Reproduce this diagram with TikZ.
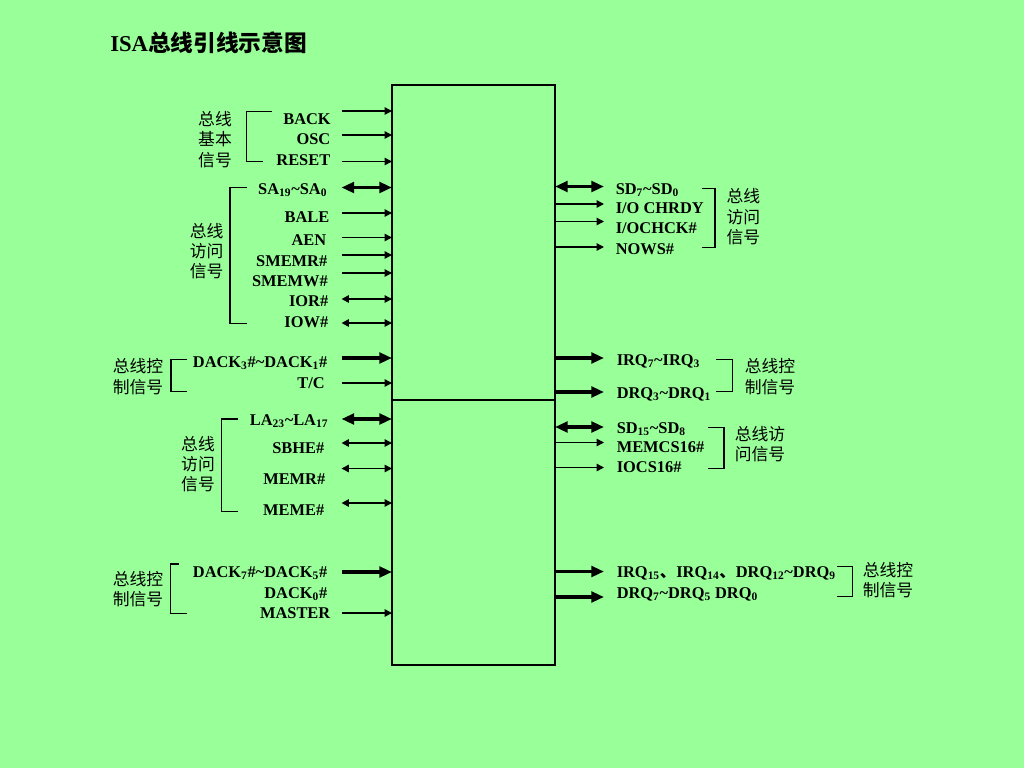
\documentclass[tikz,border=0pt]{standalone}
\usepackage{fontspec}
\setmainfont{Liberation Serif}
\newfontfamily\cjk{Noto Sans CJK SC}
\usetikzlibrary{arrows.meta}
\definecolor{bg}{RGB}{153,255,153}
\newcommand\tld{\textasciitilde}
\newcommand\sbs[1]{\textsubscript{#1}}
\begin{document}
\begin{tikzpicture}[x=0.75pt,y=-0.75pt,
 lab/.style={font=\fontsize{12.3}{14}\selectfont\bfseries, inner sep=0pt},
 labl/.style={lab, anchor=base east},
 labr/.style={lab, anchor=base west},
 grp/.style={font=\cjk\fontsize{12.6}{15.2}\selectfont, align=center, inner sep=0pt},
 brk/.style={line width=0.8pt},
 box/.style={draw, line width=2pt, inner sep=0pt, outer sep=0pt, minimum width=122.25pt},
 thin/.style={line width=1.1pt, -{Triangle[length=5.5pt,width=5.5pt]}},
 thinb/.style={line width=1.1pt, {Triangle[length=5.5pt,width=5.5pt]}-{Triangle[length=5.5pt,width=5.5pt]}},
 thick/.style={line width=2.6pt, -{Triangle[length=9.5pt,width=8pt]}},
 thickb/.style={line width=2.6pt, {Triangle[length=9.5pt,width=8pt]}-{Triangle[length=9.5pt,width=8pt]}},
]
\fill[bg] (0,0) rectangle (1024,768);
\useasboundingbox (0,0) rectangle (1024,768);

% title
\node[anchor=base west, inner sep=0pt, font=\fontsize{17}{19}\selectfont\bfseries] (title) at (110,51) {ISA{\cjk\bfseries 总线引线示意图}};

% boxes
\node[box, minimum height=236.25pt] (up) at (473.5,242.5) {};
\node[box, minimum height=198.75pt] (lo) at (473.5,532.5) {};

% left arrows
\foreach \y/\s [count=\i] in {111/thin,135/thin,161.5/thin,187.5/thickb,213/thin,237.5/thin,255/thin,273/thin,299/thinb,323/thinb,358/thick,383/thin,419/thickb,443/thinb,468.5/thinb,503/thinb,572/thick,613/thin}{
  \coordinate (L\i) at (341.5,\y);
  \draw[\s] (L\i) -- (L\i -| up.west);
}
% right arrows
\foreach \y/\s [count=\i] in {186.5/thickb,204/thin,221.5/thin,247/thin,358/thick,392/thick,427/thickb,442.5/thin,467.5/thin,571.5/thick,597/thick}{
  \coordinate (R\i) at (604,\y);
  \draw[\s] (R\i -| up.east) -- (R\i);
}

% left labels
\node[labl] (t1) at (331,124) {BACK};
\node[labl] (t2) at (330.5,144.3) {OSC};
\node[labl] (t3) at (330.5,165) {RESET};
\node[labl] (t4) at (327.5,194) {SA\sbs{19}\tld SA\sbs{0}};
\node[labl] (t5) at (329.5,222.7) {BALE};
\node[labl] (t6) at (326.5,245) {AEN};
\node[labl] (t7) at (327.5,266) {SMEMR\#};
\node[labl] (t8) at (328,286.7) {SMEMW\#};
\node[labl] (t9) at (328.5,306.7) {IOR\#};
\node[labl] (t10) at (328.5,327.3) {IOW\#};
\node[labl] (t11) at (327.5,367) {DACK\sbs{3}\#\tld DACK\sbs{1}\#};
\node[labl] (t12) at (325,388.3) {T/C};
\node[labl] (t13) at (328.5,425) {LA\sbs{23}\tld LA\sbs{17}};
\node[labl] (t14) at (324.5,453.3) {SBHE\#};
\node[labl] (t15) at (325.5,484.3) {MEMR\#};
\node[labl] (t16) at (324.5,515) {MEME\#};
\node[labl] (t17) at (327.5,577.3) {DACK\sbs{7}\#\tld DACK\sbs{5}\#};
\node[labl] (t18) at (327.5,598) {DACK\sbs{0}\#};
\node[labl] (t19) at (330.5,618.3) {MASTER};

% right labels
\node[labr] (r1) at (615.5,194) {SD\sbs{7}\tld SD\sbs{0}};
\node[labr] (r2) at (615.5,213.3) {I/O CHRDY};
\node[labr] (r3) at (615.5,233.3) {I/OCHCK\#};
\node[labr] (r4) at (615.5,254) {NOWS\#};
\node[labr] (r5) at (616.5,365) {IRQ\sbs{7}\tld IRQ\sbs{3}};
\node[labr] (r6) at (616.5,398) {DRQ\sbs{3}\tld DRQ\sbs{1}};
\node[labr] (r7) at (616.5,433) {SD\sbs{15}\tld SD\sbs{8}};
\node[labr] (r8) at (616.5,452) {MEMCS16\#};
\node[labr] (r9) at (616.5,472) {IOCS16\#};
\node[labr] (r10) at (616.5,577) {IRQ\sbs{15}{\cjk 、}IRQ\sbs{14}{\cjk 、}DRQ\sbs{12}\tld DRQ\sbs{9}};
\node[labr] (r11) at (616.5,598) {DRQ\sbs{7}\tld DRQ\sbs{5} DRQ\sbs{0}};

% brackets
\draw[brk] (271.7,111.7) -- (246.7,111.7) -- (246.7,161.7) -- (263,161.7);
\draw[brk] (246.7,187.3) -- (230,187.3) -- (230,323.3) -- (246.7,323.3);
\draw[brk] (187,359.3) -- (171,359.3) -- (171,391.7) -- (187,391.7);
\draw[brk] (238.3,419) -- (221.7,419) -- (221.7,511.7) -- (238.3,511.7);
\draw[brk] (179,564) -- (170.7,564) -- (170.7,613.3) -- (187.3,613.3);
\draw[brk] (701.7,188.3) -- (715,188.3) -- (715,247.3) -- (701.7,247.3);
\draw[brk] (716,359.3) -- (732.7,359.3) -- (732.7,391.7) -- (716,391.7);
\draw[brk] (708.3,427.3) -- (724,427.3) -- (724,468.3) -- (708.3,468.3);
\draw[brk] (837.3,566.7) -- (852.7,566.7) -- (852.7,596.7) -- (837.3,596.7);

% group labels
\node[grp] (g1) at (215,139.5) {总线\\基本\\信号};
\node[grp] (g2) at (206.7,251) {总线\\访问\\信号};
\node[grp] (g3) at (138,376.7) {总线控\\制信号};
\node[grp] (g4) at (198,464) {总线\\访问\\信号};
\node[grp] (g5) at (138,589) {总线控\\制信号};
\node[grp] (g6) at (743.3,216.7) {总线\\访问\\信号};
\node[grp] (g7) at (770,376.7) {总线控\\制信号};
\node[grp] (g8) at (760,444) {总线访\\问信号};
\node[grp] (g9) at (888,580) {总线控\\制信号};
\end{tikzpicture}
\end{document}
